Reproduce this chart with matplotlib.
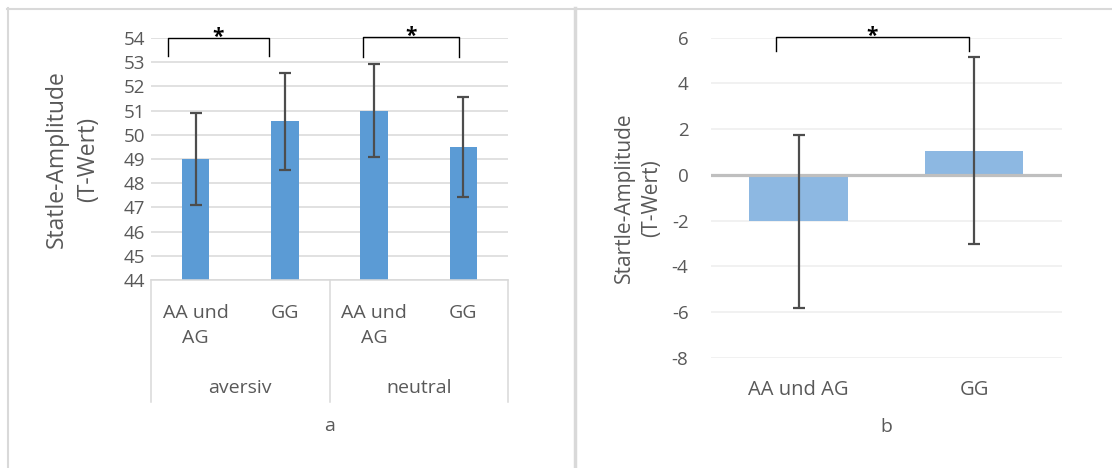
import matplotlib
matplotlib.use("Agg")
import matplotlib.pyplot as plt
from matplotlib.lines import Line2D

plt.rcParams['font.family'] = ['Open Sans', 'DejaVu Sans']

# ---- data ----
genotypes_a = ["AA und\nAG", "GG", "AA und\nAG", "GG"]
conditions_a = ["aversiv", "neutral"]
values_a = [49.0, 50.55, 51.0, 49.48]
errors_a = [1.9, 2.02, 1.91, 2.07]
yticks_a = list(range(44, 55))

genotypes_b = ["AA und AG", "GG"]
values_b = [-2.03, 1.06]
errors_b = [3.79, 4.08]
yticks_b = list(range(-8, 7, 2))

W, H = 1112, 468
fig = plt.figure(figsize=(W / 100, H / 100), dpi=100)

txt = "#595959"
grid_c = "#d9d9d9"
err_c = "#4d4d4d"

# ---- panel frame lines ----
def fx(px):
    return px / W

def fy(py):
    return 1 - py / H

fig.add_artist(Line2D([fx(7), fx(1112)], [fy(8.5), fy(8.5)], color=grid_c, lw=1.5))
fig.add_artist(Line2D([fx(7.5), fx(7.5)], [fy(8), fy(468)], color=grid_c, lw=1.5))
fig.add_artist(Line2D([fx(574.5), fx(574.5)], [fy(8), fy(468)], color=grid_c, lw=2.5))

# ---- panel a ----
axa = fig.add_axes([fx(151), fy(280), fx(357), 242 / H])
xa = list(range(len(values_a)))
axa.bar(xa, values_a, width=0.31, color="#5b9bd5", zorder=2)
axa.errorbar(xa, values_a, yerr=errors_a, fmt="none", ecolor=err_c, elinewidth=1.6,
             capsize=4.5, capthick=1.6, zorder=3)
axa.set_xlim(-0.5, 3.5)
axa.set_ylim(44, 54)
axa.set_yticks(yticks_a)
axa.set_yticklabels([str(t) for t in yticks_a], fontsize=13.5, color=txt)
axa.yaxis.grid(True, color=grid_c, lw=1.1, zorder=0)
axa.set_axisbelow(True)
for s in ["top", "right", "left"]:
    axa.spines[s].set_visible(False)
axa.spines["bottom"].set_color(grid_c)
axa.spines["bottom"].set_linewidth(1.1)
axa.tick_params(axis="y", length=0, pad=4)
axa.set_xticks(xa)
axa.set_xticklabels(genotypes_a, fontsize=14, color=txt, linespacing=1.5)
axa.tick_params(axis="x", length=0, pad=17)
axa.set_ylabel("Statle-Amplitude\n(T-Wert)", fontsize=16.5, color=txt, labelpad=17,
               linespacing=1.4)

tr = axa.get_xaxis_transform()
for xv in [-0.5, 1.5, 3.5]:
    axa.plot([xv, xv], [0, -0.505], transform=tr, color=grid_c, lw=1.1, clip_on=False)
for i, cond in enumerate(conditions_a):
    axa.text(2 * i + 0.5, -0.445, cond, transform=tr, ha="center", va="center",
             fontsize=14, color=txt)
axa.text(1.5, -0.605, "a", transform=tr, ha="center", va="center", fontsize=14, color=txt)

# significance brackets panel a
brackets_a = [(-0.31, 0.82, 54.0, 53.25), (1.87, 2.95, 54.05, 53.2)]
for x1, x2, ytop, ybot in brackets_a:
    axa.plot([x1, x1, x2, x2], [ybot, ytop, ytop, ybot], color="black", lw=1.0,
             clip_on=False, zorder=4, solid_joinstyle="round")
    axa.text((x1 + x2) / 2, ytop - 0.2, "*", ha="center", va="baseline",
             fontsize=15, fontweight="bold", color="black", clip_on=False)

# ---- panel b ----
axb = fig.add_axes([fx(710.7), fy(357.7), fx(351.3), 320 / H])
xb = list(range(len(values_b)))
axb.bar(xb, values_b, width=0.56, color="#8db8e2", zorder=2)
axb.axhline(0, color="#bfbfbf", lw=2.3, zorder=2.5)
axb.errorbar(xb, values_b, yerr=errors_b, fmt="none", ecolor=err_c, elinewidth=1.6,
             capsize=4.5, capthick=1.6, zorder=3)
axb.set_xlim(-0.5, 1.5)
axb.set_ylim(-8, 6)
axb.set_yticks(yticks_b)
axb.set_yticklabels([str(t) for t in yticks_b], fontsize=13.5, color=txt)
axb.yaxis.grid(True, color="#eeeeee", lw=1.1, zorder=0)
axb.set_axisbelow(True)
for s in ["top", "right", "left", "bottom"]:
    axb.spines[s].set_visible(False)
axb.tick_params(axis="y", length=0, pad=16)
axb.set_xticks(xb)
axb.set_xticklabels(genotypes_b, fontsize=14.5, color=txt)
axb.tick_params(axis="x", length=0, pad=16)
axb.set_ylabel("Startle-Amplitude\n(T-Wert)", fontsize=15, color=txt, labelpad=7,
               linespacing=1.35)
axb.text(0.5, -0.217, "b", transform=axb.get_xaxis_transform(), ha="center", va="center",
         fontsize=14, color=txt)

bx1, bx2, bytop, bybot = -0.13, 0.97, 6.04, 5.43
axb.plot([bx1, bx1, bx2, bx2], [bybot, bytop, bytop, bybot], color="black", lw=1.0,
         clip_on=False, zorder=4)
axb.text((bx1 + bx2) / 2, bytop - 0.22, "*", ha="center", va="baseline",
         fontsize=15, fontweight="bold", color="black", clip_on=False)

fig.savefig("out.png", dpi=100)
